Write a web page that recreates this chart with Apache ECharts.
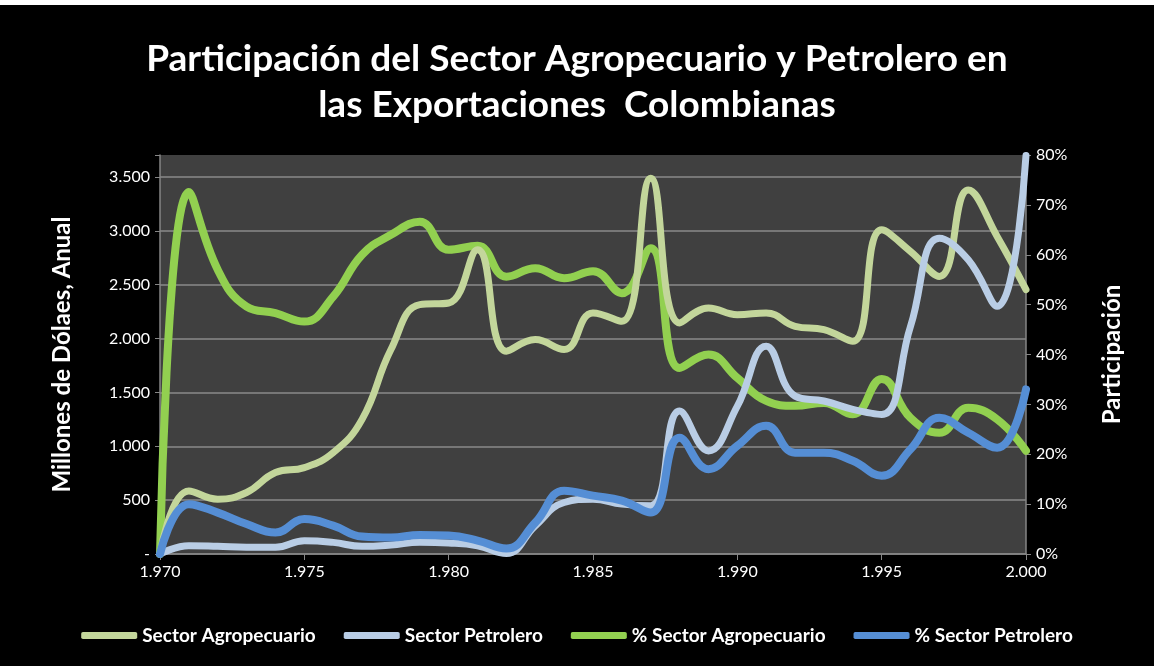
<!DOCTYPE html>
<html>
<head>
<meta charset="utf-8">
<script src="https://cdn.jsdelivr.net/npm/echarts@6/dist/echarts.min.js"></script>
<style>
html,body{margin:0;padding:0;background:#000;}
#chart{width:1154px;height:666px;}
</style>
</head>
<body>
<div id="chart"></div>
<script>
const years = [1970,1971,1972,1973,1974,1975,1976,1977,1978,1979,1980,1981,1982,1983,1984,1985,1986,1987,1988,1989,1990,1991,1992,1993,1994,1995,1996,1997,1998,1999,2000];
const sectorAgro = [0,586,509,571,756,802,941,1250,1898,2315,2330,2824,1883,1991,1898,2238,2160,3488,2145,2284,2222,2238,2114,2083,1975,3009,2809,2577,3380,2948,2454];
const sectorPetro = [0,77,71,62,62,123,108,71,83,108,102,77,5,262,478,509,463,448,1327,957,1373,1929,1466,1420,1343,1296,2114,2932,2731,2299,3700];
const pctAgro = [0,72.6,57,49.6,48.3,46.6,51.6,60,64,66.6,61,61.8,55.6,57.3,55.3,56.7,52.3,61.3,37.3,40,35.3,30.7,29.7,30.3,28,35.1,27.3,24.3,29.3,27,20.7];
const pctPetro = [0,10,8.3,6,4.3,7,5.7,3.5,3.3,3.8,3.7,2.7,1.1,6.3,12.7,11.7,10.7,8.3,23.3,17,21.7,25.7,20.3,20.3,18.7,15.7,21,27.3,24.3,21.3,33];
const names = ['Sector Agropecuario','Sector Petrolero','% Sector Agropecuario','% Sector Petrolero'];
const titleText = 'Participación del Sector Agropecuario y Petrolero en\nlas Exportaciones  Colombianas';

const pair = arr => years.map((y,i)=>[y,arr[i]]);
const fmtThousands = v => String(v).replace(/\B(?=(\d{3})+$)/g,'.');
const FONT = 'Lato';

const chart = echarts.init(document.getElementById('chart'));
chart.setOption({
  backgroundColor:'#000',
  animation:false,
  graphic:[{type:'rect',left:0,top:0,shape:{width:1154,height:5},style:{fill:'#fff'}}],
  title:{
    text:titleText,
    left:'center',
    top:31,
    textStyle:{color:'#fff',fontFamily:FONT,fontWeight:'bold',fontSize:37,lineHeight:46}
  },
  legend:{
    data:names,
    left:'center',
    top:621,
    itemWidth:56,
    itemHeight:7,
    itemGap:28,
    icon:'roundRect',
    textStyle:{color:'#fff',fontFamily:FONT,fontWeight:'bold',fontSize:19}
  },
  grid:{left:160,right:128,top:155,bottom:112,show:true,backgroundColor:'#404040',borderWidth:0},
  xAxis:{
    type:'value',min:1970,max:2000,interval:5,
    axisLine:{lineStyle:{color:'#868686',width:1.5}},
    axisTick:{show:true,length:6,lineStyle:{color:'#868686'}},
    splitLine:{show:false},
    axisLabel:{color:'#fff',fontFamily:FONT,fontSize:16,margin:10,formatter:v=>fmtThousands(v)}
  },
  yAxis:[{
    type:'value',min:0,max:3704,interval:500,
    name:'Millones de Dólaes, Anual',nameLocation:'middle',nameRotate:90,nameGap:86,
    nameTextStyle:{color:'#fff',fontFamily:FONT,fontWeight:'bold',fontSize:24},
    axisLine:{show:true,lineStyle:{color:'#868686',width:1.5}},
    axisTick:{show:true,length:5,lineStyle:{color:'#868686'}},
    splitLine:{show:true,showMaxLine:false,lineStyle:{color:'#8a8a8a',width:1.5}},
    axisLabel:{color:'#fff',fontFamily:FONT,fontSize:16,margin:10,
      formatter:v=>{ if(v===0) return '-'; if(v%500!==0) return ''; return fmtThousands(v);} }
  },{
    type:'value',min:0,max:80,interval:10,position:'right',
    name:'Participación',nameLocation:'middle',nameRotate:90,nameGap:74,
    nameTextStyle:{color:'#fff',fontFamily:FONT,fontWeight:'bold',fontSize:24},
    axisLine:{show:true,lineStyle:{color:'#868686',width:1.5}},
    axisTick:{show:true,length:5,lineStyle:{color:'#868686'}},
    splitLine:{show:false},
    axisLabel:{color:'#fff',fontFamily:FONT,fontSize:16,margin:10,formatter:'{value}%'}
  }],
  series:[
    {name:names[2],type:'line',yAxisIndex:1,data:pair(pctAgro),smooth:0.45,showSymbol:false,
      itemStyle:{color:'#92D050'},lineStyle:{color:'#92D050',width:8,cap:'round',join:'round'},z:2},
    {name:names[0],type:'line',yAxisIndex:0,data:pair(sectorAgro),smooth:0.45,showSymbol:false,
      itemStyle:{color:'#C3D69B'},lineStyle:{color:'#C3D69B',width:7,cap:'round',join:'round'},z:3},
    {name:names[1],type:'line',yAxisIndex:0,data:pair(sectorPetro),smooth:0.45,showSymbol:false,
      itemStyle:{color:'#B9CDE5'},lineStyle:{color:'#B9CDE5',width:7,cap:'round',join:'round'},z:4},
    {name:names[3],type:'line',yAxisIndex:1,data:pair(pctPetro),smooth:0.45,showSymbol:false,
      itemStyle:{color:'#558ED5'},lineStyle:{color:'#558ED5',width:8,cap:'round',join:'round'},z:5}
  ]
});
</script>
</body>
</html>
